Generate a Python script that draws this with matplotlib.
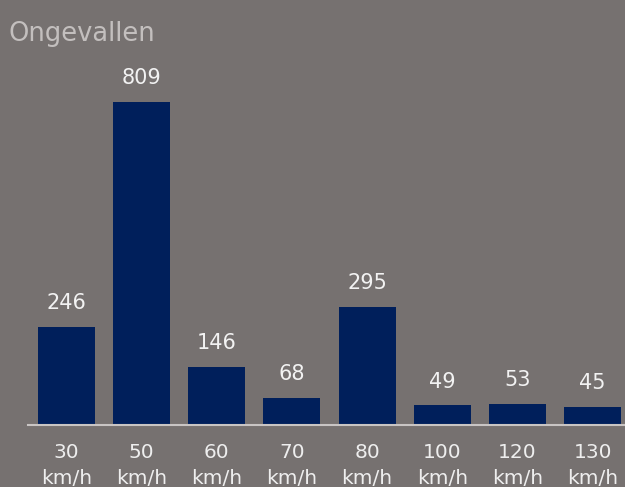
import matplotlib.pyplot as plt

speeds = ["30", "50", "60", "70", "80", "100", "120", "130"]
ongevallen = [246, 809, 146, 68, 295, 49, 53, 45]
tick_labels = [f"{s}\nkm/h" for s in speeds]

bg = '#767170'
bar_color = '#001f5b'

fig = plt.figure(figsize=(6.25, 4.87), dpi=100, facecolor=bg)
ax = fig.add_axes([28 / 625, 62 / 487, 1 - 28 / 625, 365 / 487], facecolor=bg)

x = range(len(speeds))
ax.bar(x, ongevallen, width=0.76, color=bar_color)

for i, v in enumerate(ongevallen):
    ax.annotate(str(v), (i, v), textcoords="offset points", xytext=(0, 10),
                ha='center', va='bottom', fontsize=15, color='#f2f2f2')

ax.set_xlim(-0.51, 7.43)
ax.set_ylim(0, 914)
ax.set_xticks(list(x))
ax.set_xticklabels(tick_labels, fontsize=14.5, color='#eeeeee', linespacing=1.45)
ax.tick_params(axis='x', length=0, pad=13)
ax.set_yticks([])
for s in ['top', 'right', 'left']:
    ax.spines[s].set_visible(False)
ax.spines['bottom'].set_color('#c9c5c4')
ax.spines['bottom'].set_linewidth(1.5)

fig.text(8 / 625, 1 - 34 / 487, "Ongevallen", fontsize=18.5, color='#c3bfbe',
         ha='left', va='center')

plt.savefig('out.png', dpi=100, facecolor=bg)
